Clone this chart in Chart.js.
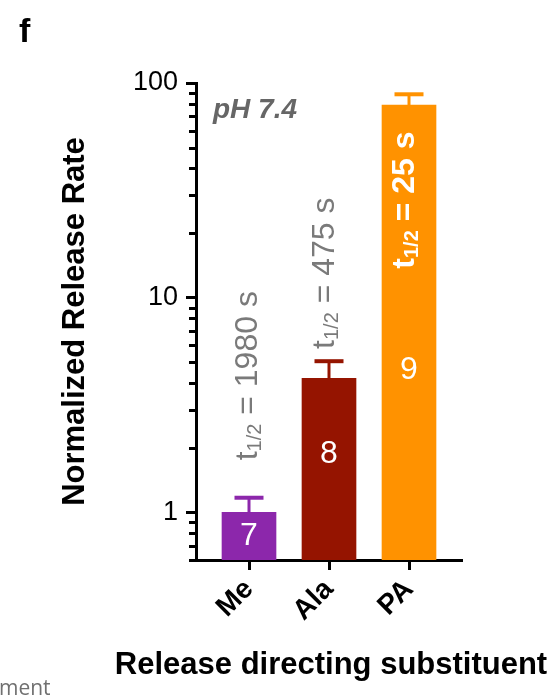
<!DOCTYPE html>
<html>
<head>
<meta charset="utf-8">
<script src="https://cdn.jsdelivr.net/npm/chart.js@4.4.1/dist/chart.umd.min.js"></script>
<style>
  html, body { margin: 0; padding: 0; background: #fff; }
</style>
</head>
<body>
<canvas id="chart" width="559" height="698"></canvas>
<script>
// -------------------------------------------------------------
// Data
// -------------------------------------------------------------
const categories = ['Me', 'Ala', 'PA']
const releaseRates = [1.0, 4.21, 78.9]      // normalized release rate (bar height)
const errorHigh = [1.17, 5.06, 88.6]        // top of the error bar
const compoundIds = ['7', '8', '9']
const halfLives = ['1980', '475', '25']
const yTickValues = [1, 10, 100]

const barColors = ['#8c27ab', '#951400', '#ff9200']
const FONT = '"Liberation Sans", Arial, Helvetica, sans-serif'

// where the half-life notes and compound numbers sit, relative to each bar top
const noteStyle = [
  { dx: -1, dy: -122, fromError: true, bold: false, color: '#7a7a7a' },
  { dx: -4, dy: -88, fromError: true, bold: false, color: '#7a7a7a' },
  { dx: -4, dy: 95, fromError: false, bold: true, color: '#ffffff' }
]
const idOffset = [24, 76, 265]

Chart.defaults.font.family = FONT

// -------------------------------------------------------------
// Helpers
// -------------------------------------------------------------
function drawHalfLife(ctx, cx, cy, value, bold, color) {
  const size = 32
  const w = bold ? 'bold ' : ''
  const main = `${w}${size}px ${FONT}`
  const sub = `${w}${Math.round(size * 0.62)}px ${FONT}`
  const parts = [['t', main, 0], ['1/2', sub, size * 0.22], [` = ${value} s`, main, 0]]
  ctx.save()
  ctx.translate(cx, cy)
  ctx.rotate(-Math.PI / 2)
  ctx.fillStyle = color
  ctx.textBaseline = 'middle'
  ctx.textAlign = 'left'
  let total = 0
  for (const [t, f] of parts) { ctx.font = f; total += ctx.measureText(t).width }
  let x = -total / 2
  for (const [t, f, dy] of parts) {
    ctx.font = f
    ctx.fillText(t, x, dy)
    x += ctx.measureText(t).width
  }
  ctx.restore()
}

// error bars, minor log ticks and all the loose text
const decorations = {
  id: 'decorations',
  afterDatasetsDraw(chart) {
    const { ctx, scales: { x, y } } = chart
    ctx.save()
    categories.forEach((_, i) => {
      const px = x.getPixelForValue(i)
      const top = y.getPixelForValue(releaseRates[i])
      const err = y.getPixelForValue(errorHigh[i])
      ctx.strokeStyle = barColors[i]
      ctx.lineWidth = 3
      ctx.beginPath()
      ctx.moveTo(px, top)
      ctx.lineTo(px, err)
      ctx.stroke()
      ctx.lineWidth = 4
      ctx.beginPath()
      ctx.moveTo(px - 14.5, err)
      ctx.lineTo(px + 14.5, err)
      ctx.stroke()
    })
    ctx.restore()
  },
  afterDraw(chart) {
    const { ctx, scales: { x, y } } = chart

    // minor ticks on the log axis
    ctx.save()
    ctx.strokeStyle = '#000'
    ctx.lineWidth = 3
    for (let e = -1; e <= 1; e++) {
      for (let k = 2; k <= 9; k++) {
        const v = k * Math.pow(10, e)
        if (v < y.min || v > y.max) continue
        const py = Math.round(y.getPixelForValue(v)) + 0.5
        ctx.beginPath()
        ctx.moveTo(y.right - 7, py)
        ctx.lineTo(y.right, py)
        ctx.stroke()
      }
    }
    ctx.restore()

    // half-life notes and compound numbers
    categories.forEach((_, i) => {
      const px = x.getPixelForValue(i)
      const top = y.getPixelForValue(releaseRates[i])
      const err = y.getPixelForValue(errorHigh[i])
      const s = noteStyle[i]
      drawHalfLife(ctx, px + s.dx, (s.fromError ? err : top) + s.dy, halfLives[i], s.bold, s.color)

      ctx.save()
      ctx.fillStyle = '#fff'
      ctx.font = `32px ${FONT}`
      ctx.textAlign = 'center'
      ctx.textBaseline = 'middle'
      ctx.fillText(compoundIds[i], px, top + idOffset[i])
      ctx.restore()
    })

    ctx.save()
    ctx.textBaseline = 'alphabetic'

    // x axis title, wider than the plot so it is drawn here unclipped
    ctx.fillStyle = '#000'
    ctx.textAlign = 'center'
    ctx.font = `bold 31px ${FONT}`
    ctx.fillText('Release directing substituent', (x.left + x.right) / 2 + 2, 674)

    ctx.textAlign = 'left'
    ctx.fillStyle = '#666'
    ctx.font = `italic bold 28px ${FONT}`
    ctx.fillText('pH 7.4', 213, 118)

    ctx.fillStyle = '#000'
    ctx.font = `bold 34px ${FONT}`
    ctx.fillText('f', 19, 42)

    ctx.fillStyle = '#707070'
    ctx.font = `21px "Open Sans", ${FONT}`
    ctx.fillText('ment', -1, 695)
    ctx.restore()
  }
}

// -------------------------------------------------------------
// Chart
// -------------------------------------------------------------
new Chart(document.getElementById('chart'), {
  type: 'bar',
  data: {
    datasets: [{
      data: releaseRates.map((v, i) => ({ x: i, y: v })),
      backgroundColor: barColors,
      borderWidth: 0,
      barThickness: 54
    }]
  },
  options: {
    responsive: false,
    animation: false,
    layout: { padding: { top: 83, right: 97, bottom: 0, left: 0 } },
    plugins: { legend: { display: false }, tooltip: { enabled: false } },
    scales: {
      x: {
        type: 'linear',
        min: -0.6625,
        max: 2.6625,
        offset: false,
        afterBuildTicks: s => { s.ticks = categories.map((_, i) => ({ value: i })) },
        afterFit: s => { s.height = 138 },
        ticks: {
          autoSkip: false,
          minRotation: 45,
          maxRotation: 45,
          padding: 3,
          color: '#000',
          font: { size: 28, weight: 'bold' },
          callback: v => categories[v]
        },
        grid: { offset: false, drawOnChartArea: false, tickLength: 10, tickWidth: 3, tickColor: '#000' },
        border: { color: '#000', width: 3 }
      },
      y: {
        type: 'logarithmic',
        min: 0.6,
        max: 100,
        afterBuildTicks: s => { s.ticks = yTickValues.map(v => ({ value: v, major: true })) },
        afterFit: s => { s.width = 196 },
        ticks: {
          padding: 8,
          color: '#000',
          font: { size: 27 },
          callback: v => String(v)
        },
        grid: { drawOnChartArea: false, tickLength: 10, tickWidth: 3, tickColor: '#000' },
        border: { color: '#000', width: 3 },
        title: {
          display: true,
          text: 'Normalized Release Rate',
          color: '#000',
          font: { size: 31, weight: 'bold' },
          padding: { top: 57, bottom: 0 }
        }
      }
    }
  },
  plugins: [decorations]
})
</script>
</body>
</html>
